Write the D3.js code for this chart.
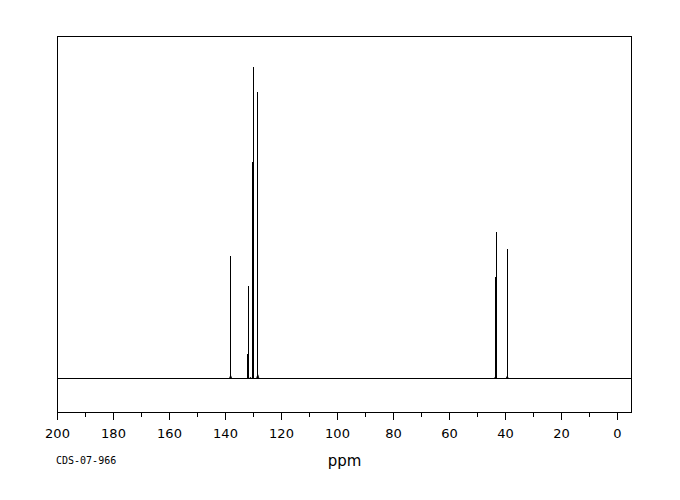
<!DOCTYPE html>
<html>
<head>
<meta charset="utf-8">
<script src="https://cdn.jsdelivr.net/npm/d3@7"></script>
<style>
  html, body { margin: 0; padding: 0; background: #fff; }
  svg { display: block; }
</style>
</head>
<body>
<script>
// ---- data ----
const majorTicks = [200, 180, 160, 140, 120, 100, 80, 60, 40, 20, 0];
const minorTicks = [190, 170, 150, 130, 110, 90, 70, 50, 30, 10];
const peakPpm = [138.0, 131.9, 131.7, 130.25, 129.75, 128.5, 43.5, 43.2, 39.2];
const peakInt = [39.5, 8.1, 29.8, 69.5, 100, 92, 32.6, 47, 41.7];
const bumpPpm = [138.0, 131.8, 130.9, 128.3, 43.35, 39.2];
const bumpInt = [1.0, 0.6, 0.5, 1.3, 0.8, 0.8];
const xLabel = "ppm";
const codeLabel = "CDS-07-966";

const W = 680, H = 500;
const svg = d3.select("body").append("svg").attr("width", W).attr("height", H);

const x = d3.scaleLinear().domain([200, -5]).range([57, 631]);
const y = d3.scaleLinear().domain([-10.8, 109.7]).range([412.5, 36.5]);
const px = v => Math.floor(x(v)) + 0.5;

// frame
svg.append("rect")
  .attr("x", px(200)).attr("y", y(109.7))
  .attr("width", px(-5) - px(200)).attr("height", y(-10.8) - y(109.7))
  .attr("fill", "none").attr("stroke", "#000").attr("stroke-width", 1)
  .attr("shape-rendering", "crispEdges");

// axis major
const axMajor = svg.append("g")
  .attr("transform", `translate(0,${y(-10.8)})`)
  .call(d3.axisBottom(x).tickValues(majorTicks).tickSize(7).tickPadding(12).tickFormat(d3.format("d")));
axMajor.select(".domain").remove();
axMajor.selectAll("line").attr("stroke", "#000").attr("shape-rendering", "crispEdges");
axMajor.selectAll("text")
  .attr("font-family", "DejaVu Sans, sans-serif").attr("font-size", 13).attr("fill", "#000")
  .attr("dy", "0.35em").attr("y", 21);

const axMinor = svg.append("g")
  .attr("transform", `translate(0,${y(-10.8)})`)
  .call(d3.axisBottom(x).tickValues(minorTicks).tickSize(4).tickFormat(""));
axMinor.select(".domain").remove();
axMinor.selectAll("line").attr("stroke", "#000").attr("shape-rendering", "crispEdges");

// baseline
svg.append("line")
  .attr("x1", px(200)).attr("x2", px(-5))
  .attr("y1", y(0)).attr("y2", y(0))
  .attr("stroke", "#000").attr("stroke-width", 1).attr("shape-rendering", "crispEdges");

// small base bumps
const bumpLine = d3.line().x(d => x(d[0])).y(d => y(d[1]));
bumpPpm.forEach((p, i) => {
  svg.append("path")
    .attr("d", bumpLine([[p + 0.45, 0], [p, bumpInt[i]], [p - 0.45, 0]]))
    .attr("fill", "none").attr("stroke", "#000").attr("stroke-width", 1);
});

// peaks
svg.append("g").selectAll("line")
  .data(peakPpm.map((p, i) => ({ p, v: peakInt[i] })))
  .join("line")
  .attr("x1", d => px(d.p)).attr("x2", d => px(d.p))
  .attr("y1", y(0)).attr("y2", d => y(d.v))
  .attr("stroke", "#000").attr("stroke-width", 1).attr("shape-rendering", "crispEdges");

// labels
svg.append("text")
  .attr("x", 344.5).attr("y", 466)
  .attr("text-anchor", "middle")
  .attr("font-family", "DejaVu Sans, sans-serif").attr("font-size", 15)
  .attr("fill", "#000")
  .text(xLabel);

svg.append("text")
  .attr("x", 56).attr("y", 464)
  .attr("font-family", "DejaVu Sans Mono, monospace").attr("font-size", 10)
  .attr("fill", "#000")
  .text(codeLabel);
</script>
</body>
</html>
